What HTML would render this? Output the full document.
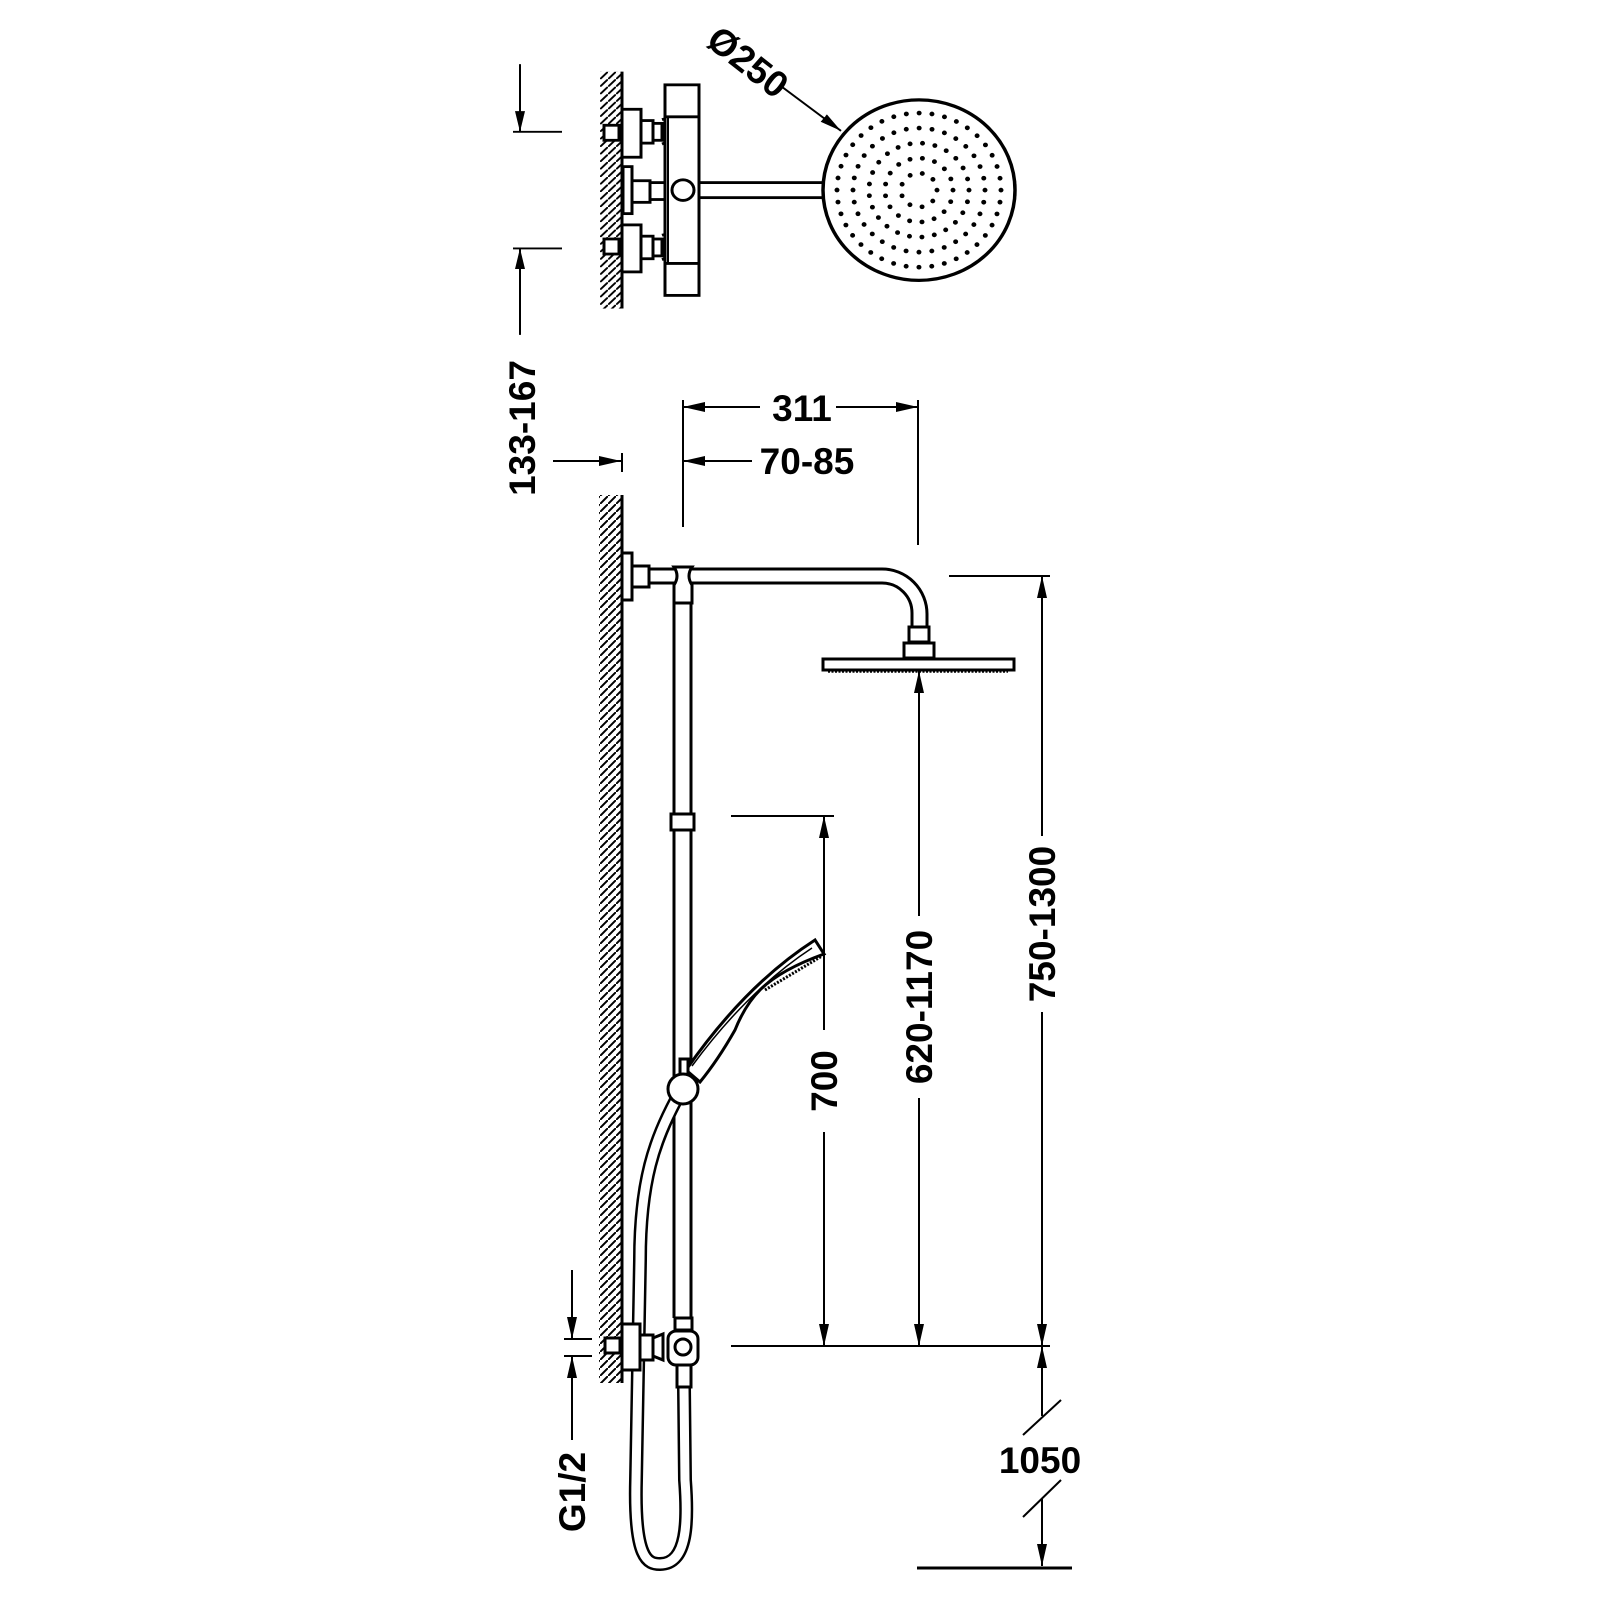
<!DOCTYPE html>
<html><head><meta charset="utf-8"><style>html,body{margin:0;padding:0;background:#fff}svg{display:block}text{font-family:"Liberation Sans",sans-serif;font-weight:bold;fill:#000}</style></head>
<body>
<svg width="1600" height="1600" viewBox="0 0 1600 1600" xmlns="http://www.w3.org/2000/svg">
<defs>
<marker id="a" markerUnits="userSpaceOnUse" markerWidth="24" markerHeight="12" refX="22" refY="5" orient="auto-start-reverse"><path d="M0,0 L22,5 L0,10 z" fill="#000"/></marker>
<pattern id="h" patternUnits="userSpaceOnUse" width="8" height="8"><path d="M-2,10 L10,-2" stroke="#000" stroke-width="2"/></pattern>
</defs>
<g transform="translate(0,4) scale(1,0.94)">
<g fill="none" stroke="#000" stroke-width="3">
<!-- TOP VIEW -->
<rect x="600" y="72" width="22" height="252" fill="url(#h)" stroke="none"/>
<line x1="622" y1="72" x2="622" y2="324"/>
<line x1="513" y1="136" x2="562" y2="136" stroke-width="2"/>
<line x1="513" y1="260" x2="562" y2="260" stroke-width="2"/>
<line x1="520" y1="64" x2="520" y2="136" stroke-width="2" marker-end="url(#a)"/>
<line x1="520" y1="352" x2="520" y2="260" stroke-width="2" marker-end="url(#a)"/>
<rect x="604" y="129" width="15" height="16" fill="#fff"/>
<rect x="622" y="112" width="19" height="51" fill="#fff"/>
<rect x="641" y="124" width="12" height="24" fill="#fff"/>
<rect x="653" y="127" width="9" height="18" fill="#fff"/>
<path d="M662 123 q11 -4 9 13 q0 9 -9 13"/>
<rect x="604" y="250" width="15" height="16" fill="#fff"/>
<rect x="622" y="235" width="19" height="50" fill="#fff"/>
<rect x="641" y="247" width="12" height="24" fill="#fff"/>
<rect x="653" y="250" width="9" height="18" fill="#fff"/>
<path d="M662 246 q11 -4 9 13 q0 9 -9 13"/>
<rect x="623" y="173" width="9" height="50" fill="#fff"/>
<rect x="632" y="188" width="18" height="23" fill="#fff"/>
<rect x="650" y="190" width="15" height="18" fill="#fff"/>
<rect x="665" y="86" width="34" height="224" fill="#fff"/>
<line x1="665" y1="120" x2="699" y2="120"/>
<line x1="665" y1="276" x2="699" y2="276"/>
<line x1="668" y1="120" x2="668" y2="276" stroke-width="2"/>
<circle cx="683" cy="198" r="11" fill="#fff"/>
<rect x="699" y="190" width="127" height="16" fill="#fff"/>
<circle cx="919" cy="198" r="96" fill="#fff" stroke-width="3.5"/>
<line x1="783" y1="89" x2="841" y2="135" stroke-width="2" marker-end="url(#a)"/>
</g>
<g fill="none" stroke="#000" stroke-width="5" stroke-linecap="round">
<circle cx="919" cy="198" r="82" stroke-dasharray="0 12.88"/>
<circle cx="919" cy="198" r="66" stroke-dasharray="0 12.96"/>
<circle cx="919" cy="198" r="50" stroke-dasharray="0 12.57"/>
<circle cx="919" cy="198" r="34" stroke-dasharray="0 12.57"/>
<circle cx="919" cy="198" r="18" stroke-dasharray="0 12.57"/>
</g>
</g>
<text x="0" y="0" font-size="37" text-anchor="middle" transform="translate(740,72) rotate(38)">Ø250</text>

<g fill="none" stroke="#000" stroke-width="3">
<!-- FRONT VIEW wall -->
<rect x="599" y="495" width="23" height="888" fill="url(#h)" stroke="none"/>
<line x1="622" y1="495" x2="622" y2="1383"/>
<!-- dims top -->
<line x1="683" y1="400" x2="683" y2="527" stroke-width="2"/>
<line x1="918" y1="400" x2="918" y2="545" stroke-width="2"/>
<line x1="760" y1="407" x2="683" y2="407" stroke-width="2" marker-end="url(#a)"/>
<line x1="836" y1="407" x2="918" y2="407" stroke-width="2" marker-end="url(#a)"/>
<line x1="752" y1="461" x2="683" y2="461" stroke-width="2" marker-end="url(#a)"/>
<line x1="553" y1="461" x2="621" y2="461" stroke-width="2" marker-end="url(#a)"/>
<line x1="622" y1="453" x2="622" y2="472" stroke-width="2"/>
<!-- arm -->
<rect x="622" y="553" width="10" height="47" fill="#fff"/>
<rect x="632" y="566" width="17" height="21" fill="#fff"/>
<path d="M649 569 H882 A45 45 0 0 1 927 614 V627"/>
<path d="M649 583 H882 A30 30 0 0 1 912 613 V627"/>
<rect x="909" y="627" width="20" height="15" fill="#fff"/>
<rect x="904" y="643" width="30" height="15" fill="#fff"/>
<rect x="823" y="659" width="191" height="11" fill="#fff"/>
<line x1="828" y1="672" x2="1008" y2="672" stroke-width="1.5" stroke-dasharray="2 1.5"/>
<!-- riser -->
<line x1="674" y1="603" x2="674" y2="1318"/>
<line x1="691" y1="603" x2="691" y2="1318"/>
<path d="M674 567 h18 q-6 9 0 18 v18 h-18 v-18 q6 -9 0 -18 z" fill="#fff"/>
<rect x="671" y="814" width="23" height="16" fill="#fff"/>
<!-- hose -->
<path d="M676 1100 C 655 1140, 640 1180, 640 1260 L 636 1480 C 634 1560, 648 1564, 660 1564 C 688 1564, 688 1520, 685 1480 L 684 1388" stroke-width="14"/>
<path d="M676 1100 C 655 1140, 640 1180, 640 1260 L 636 1480 C 634 1560, 648 1564, 660 1564 C 688 1564, 688 1520, 685 1480 L 684 1388" stroke="#fff" stroke-width="9"/>
<!-- handshower -->
<path d="M686 1070 Q 745 985 815 940 L 824 954 Q 780 970 760 990 Q 745 1005 735 1030 Q 718 1060 700 1082 Z" fill="#fff" stroke-width="3"/>
<path d="M692 1066 Q 748 990 812 948" stroke-width="1.5"/>
<path d="M765 990 L 822 956" stroke-width="3" stroke-dasharray="2 1.5"/>
<rect x="680" y="1059" width="8" height="19" fill="#fff"/>
<circle cx="683" cy="1089" r="15" fill="#fff"/>
<!-- bottom valve -->
<rect x="605" y="1338" width="15" height="15" fill="#fff"/>
<rect x="622" y="1324" width="18" height="46" fill="#fff"/>
<rect x="640" y="1335" width="13" height="25" fill="#fff"/>
<path d="M653 1338 l10 -4 v26 l-10 -4 z" fill="#fff"/>
<rect x="675" y="1318" width="17" height="12" fill="#fff"/>
<rect x="677" y="1365" width="14" height="22" fill="#fff"/>
<rect x="668" y="1331" width="30" height="34" rx="8" fill="#fff"/>
<circle cx="683" cy="1347" r="8" fill="#fff"/>
<!-- G1/2 dim -->
<line x1="564" y1="1339" x2="592" y2="1339" stroke-width="2"/>
<line x1="564" y1="1356" x2="592" y2="1356" stroke-width="2"/>
<line x1="572" y1="1270" x2="572" y2="1339" stroke-width="2" marker-end="url(#a)"/>
<line x1="572" y1="1440" x2="572" y2="1356" stroke-width="2" marker-end="url(#a)"/>
<!-- right dims -->
<line x1="731" y1="816" x2="834" y2="816" stroke-width="2"/>
<line x1="731" y1="1346" x2="1050" y2="1346" stroke-width="2"/>
<line x1="949" y1="576" x2="1050" y2="576" stroke-width="2"/>
<line x1="824" y1="1030" x2="824" y2="816" stroke-width="2" marker-end="url(#a)"/>
<line x1="824" y1="1132" x2="824" y2="1346" stroke-width="2" marker-end="url(#a)"/>
<line x1="919" y1="916" x2="919" y2="671" stroke-width="2" marker-end="url(#a)"/>
<line x1="919" y1="1098" x2="919" y2="1346" stroke-width="2" marker-end="url(#a)"/>
<line x1="1042" y1="836" x2="1042" y2="576" stroke-width="2" marker-end="url(#a)"/>
<line x1="1042" y1="1012" x2="1042" y2="1346" stroke-width="2" marker-end="url(#a)"/>
<line x1="1042" y1="1346" x2="1042" y2="1416" stroke-width="2" marker-start="url(#a)"/>
<line x1="1023" y1="1435" x2="1061" y2="1400" stroke-width="2"/>
<line x1="1023" y1="1517" x2="1061" y2="1480" stroke-width="2"/>
<line x1="1042" y1="1498" x2="1042" y2="1566" stroke-width="2" marker-end="url(#a)"/>
<line x1="917" y1="1568" x2="1072" y2="1568" stroke-width="3"/>
</g>
<text x="802" y="421" font-size="37" text-anchor="middle">311</text>
<text x="807" y="474" font-size="37" text-anchor="middle">70-85</text>
<text font-size="37" text-anchor="middle" transform="translate(535,428) rotate(-90)">133-167</text>
<text font-size="37" text-anchor="middle" transform="translate(837,1081) rotate(-90)">700</text>
<text font-size="37" text-anchor="middle" transform="translate(932,1007) rotate(-90)">620-1170</text>
<text font-size="37" text-anchor="middle" transform="translate(1055,924) rotate(-90)">750-1300</text>
<text font-size="37" text-anchor="middle" transform="translate(585,1492) rotate(-90)">G1/2</text>
<text x="1040" y="1473" font-size="37" text-anchor="middle">1050</text>
</svg>
</body></html>
